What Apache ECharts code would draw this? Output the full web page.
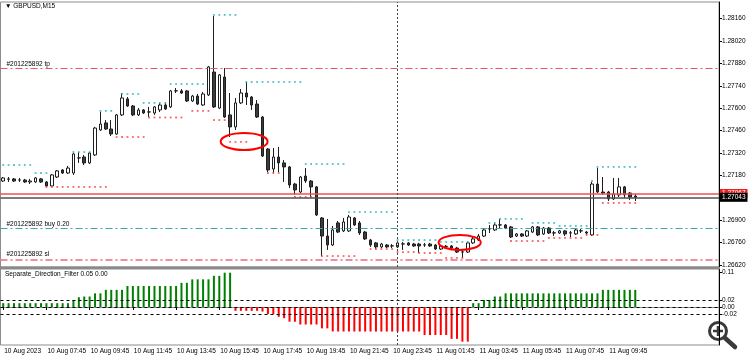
<!DOCTYPE html>
<html><head><meta charset="utf-8">
<script src="https://cdn.jsdelivr.net/npm/echarts@6/dist/echarts.min.js"></script>
<style>html,body{margin:0;padding:0;background:#fff}#c{width:750px;height:360px}</style>
</head><body><div id="c"></div><script>
// ---------- data ----------
const symbolTitle = '\u25BC GBPUSD,M15';
const indicatorTitle = 'Separate_Direction_Filter 0.05 0.00';
const slotCount = 133; // 118 bars + empty right shift
const tickLabels = ['10 Aug 2023','10 Aug 07:45','10 Aug 09:45','10 Aug 11:45','10 Aug 13:45','10 Aug 15:45','10 Aug 17:45','10 Aug 19:45','10 Aug 21:45','10 Aug 23:45','11 Aug 01:45','11 Aug 03:45','11 Aug 05:45','11 Aug 07:45','11 Aug 09:45'];
const tickEvery = 8;
const priceTicks = [1.28160,1.28020,1.27880,1.27740,1.27600,1.27460,1.27320,1.27180,1.26900,1.26760,1.26620];
const filterMax = 0.10857;
const filterTopLabelAt = 0.1;   // where the window's max value (0.11) is written
const filterTicks = [0.1,0.02,0,-0.02];
const filterLevels = [0.02,0,-0.02];

const opens = [
1.27145,1.27158,1.27158,1.27151,1.27151,1.27139,1.27139,1.27158,1.27139,1.27114,
1.27170,1.27214,1.27195,1.27195,1.27289,1.27295,1.27258,1.27308,1.27464,1.27508,
1.27470,1.27439,1.27558,1.27658,1.27614,1.27558,1.27589,1.27576,1.27570,1.27589,
1.27620,1.27608,1.27708,1.27708,1.27708,1.27645,1.27676,1.27620,1.27683,1.27826,
1.27601,1.27795,1.27558,1.27483,1.27633,1.27695,1.27670,1.27626,1.27545,1.27345,
1.27220,1.27295,1.27258,1.27233,1.27126,1.27076,1.27176,1.27145,1.27108,1.26914,
1.26801,1.26745,1.26883,1.26833,1.26833,1.26914,1.26883,1.26826,1.26776,1.26758,
1.26733,1.26745,1.26739,1.26733,1.26751,1.26758,1.26751,1.26751,1.26745,1.26751,
1.26745,1.26720,1.26736,1.26739,1.26726,1.26701,1.26701,1.26758,1.26776,1.26801,
1.26845,1.26839,1.26870,1.26870,1.26858,1.26801,1.26814,1.26801,1.26826,1.26858,
1.26814,1.26851,1.26820,1.26820,1.26833,1.26820,1.26814,1.26833,1.26826,1.26808,
1.27126,1.27076,1.27076,1.27033,1.27058,1.27108,1.27070,1.27051];
const highs = [
1.27170,1.27170,1.27164,1.27164,1.27158,1.27158,1.27170,1.27164,1.27145,1.27189,
1.27214,1.27220,1.27239,1.27320,1.27326,1.27308,1.27326,1.27483,1.27576,1.27526,
1.27526,1.27564,1.27695,1.27670,1.27620,1.27601,1.27595,1.27608,1.27614,1.27633,
1.27633,1.27714,1.27726,1.27720,1.27714,1.27683,1.27689,1.27701,1.27864,1.28176,
1.27814,1.27851,1.27695,1.27664,1.27720,1.27764,1.27676,1.27651,1.27551,1.27351,
1.27351,1.27358,1.27276,1.27239,1.27133,1.27176,1.27226,1.27151,1.27114,1.26920,
1.26908,1.26864,1.26895,1.26914,1.26933,1.26920,1.26895,1.26833,1.26783,1.26764,
1.26758,1.26751,1.26751,1.26764,1.26764,1.26764,1.26758,1.26758,1.26758,1.26758,
1.26751,1.26745,1.26745,1.26745,1.26733,1.26714,1.26764,1.26795,1.26814,1.26851,
1.26870,1.26883,1.26908,1.26876,1.26864,1.26820,1.26820,1.26839,1.26864,1.26864,
1.26858,1.26858,1.26833,1.26839,1.26839,1.26833,1.26845,1.26845,1.26833,1.27139,
1.27226,1.27170,1.27083,1.27164,1.27164,1.27114,1.27076,1.27064];
const lows = [
1.27139,1.27139,1.27139,1.27139,1.27133,1.27126,1.27133,1.27133,1.27108,1.27108,
1.27164,1.27189,1.27189,1.27183,1.27258,1.27245,1.27251,1.27301,1.27458,1.27464,
1.27426,1.27433,1.27551,1.27608,1.27551,1.27551,1.27564,1.27545,1.27558,1.27576,
1.27589,1.27601,1.27695,1.27689,1.27639,1.27639,1.27620,1.27614,1.27676,1.27601,
1.27595,1.27539,1.27420,1.27464,1.27626,1.27620,1.27589,1.27539,1.27295,1.27201,
1.27195,1.27201,1.27139,1.27101,1.27058,1.27070,1.27133,1.27045,1.26926,1.26676,
1.26714,1.26739,1.26820,1.26826,1.26826,1.26864,1.26808,1.26776,1.26733,1.26720,
1.26726,1.26726,1.26726,1.26726,1.26714,1.26739,1.26733,1.26695,1.26733,1.26733,
1.26714,1.26714,1.26726,1.26720,1.26695,1.26664,1.26695,1.26751,1.26770,1.26795,
1.26820,1.26833,1.26851,1.26845,1.26789,1.26795,1.26795,1.26795,1.26820,1.26801,
1.26808,1.26814,1.26801,1.26814,1.26801,1.26795,1.26808,1.26820,1.26808,1.26801,
1.27070,1.27058,1.27020,1.27026,1.27045,1.27039,1.27026,1.27020];
const closes = [
1.27164,1.27156,1.27145,1.27152,1.27139,1.27145,1.27164,1.27139,1.27114,1.27183,
1.27208,1.27195,1.27226,1.27314,1.27290,1.27258,1.27320,1.27476,1.27501,1.27470,
1.27439,1.27558,1.27664,1.27614,1.27558,1.27589,1.27570,1.27577,1.27608,1.27620,
1.27595,1.27708,1.27709,1.27695,1.27645,1.27676,1.27626,1.27689,1.27858,1.27608,
1.27808,1.27545,1.27483,1.27633,1.27695,1.27670,1.27620,1.27545,1.27301,1.27214,
1.27295,1.27258,1.27233,1.27120,1.27089,1.27170,1.27145,1.27108,1.26933,1.26801,
1.26745,1.26839,1.26826,1.26889,1.26920,1.26870,1.26820,1.26783,1.26745,1.26733,
1.26751,1.26733,1.26740,1.26758,1.26752,1.26745,1.26739,1.26739,1.26746,1.26739,
1.26720,1.26739,1.26737,1.26726,1.26701,1.26702,1.26758,1.26783,1.26801,1.26839,
1.26846,1.26870,1.26871,1.26851,1.26795,1.26814,1.26801,1.26833,1.26858,1.26808,
1.26851,1.26820,1.26821,1.26833,1.26814,1.26821,1.26839,1.26834,1.26820,1.27126,
1.27076,1.27070,1.27033,1.27064,1.27108,1.27058,1.27045,1.27043];

// Separate_Direction_Filter histogram, one value per bar
const filterValues = [
0.011,0.011,0.011,0.011,0.011,0.011,0.011,0.011,0.011,0.011,
0.011,0.011,0.011,0.020,0.028,0.030,0.030,0.039,0.039,0.049,
0.049,0.049,0.049,0.060,0.060,0.060,0.060,0.060,0.060,0.060,
0.060,0.060,0.060,0.069,0.069,0.079,0.079,0.079,0.079,0.089,
0.089,0.098,0.098,-0.011,-0.011,-0.011,-0.011,-0.011,-0.013,-0.020,
-0.020,-0.028,-0.032,-0.042,-0.042,-0.050,-0.050,-0.050,-0.050,-0.061,
-0.061,-0.070,-0.070,-0.070,-0.070,-0.070,-0.070,-0.070,-0.070,-0.070,
-0.070,-0.070,-0.070,-0.070,-0.070,-0.070,-0.070,-0.070,-0.080,-0.080,
-0.080,-0.080,-0.080,-0.091,-0.091,-0.099,-0.099,0.011,0.011,0.020,
0.020,0.030,0.030,0.039,0.039,0.039,0.039,0.039,0.039,0.039,
0.039,0.039,0.039,0.039,0.039,0.039,0.039,0.039,0.039,0.039,
0.039,0.049,0.049,0.049,0.049,0.049,0.049,0.049];

// dotted levels: [first bar, last bar, price]
const upperLevels = [[0,5,1.27245],[6,8,1.27195],[13,16,1.27326],[18,20,1.27583],[22,25,1.27689],[26,30,1.27633],[31,37,1.27751],[39,43,1.28183],[45,55,1.27764],[56,63,1.27251],[64,72,1.26951],[73,80,1.26776],[81,86,1.26764],[90,91,1.26883],[92,96,1.26908],[98,102,1.26883],[103,108,1.26864],[109,109,1.27145],[110,117,1.27233]];
const lowerLevels = [[8,19,1.27108],[21,26,1.27420],[27,33,1.27542],[35,38,1.27583],[39,41,1.27526],[42,45,1.27389],[49,51,1.27195],[54,57,1.27045],[59,65,1.26676],[68,72,1.26720],[73,76,1.26701],[77,81,1.26695],[82,85,1.26664],[94,100,1.26770],[101,107,1.26789],[108,110,1.26808],[111,117,1.27008]];

// order lines
const tpPrice = 1.27849, tpLabel = '#201225892 tp';
const buyPrice = 1.26849, buyLabel = '#201225892 buy 0.20';
const slPrice = 1.26654, slLabel = '#201225892 sl';
const askPrice = 1.27067, bidPrice = 1.27043;
const cursorBar = 73;
// hand-drawn ellipses: [centre bar, centre price, half width in bars, half height in price]
const ellipses = [[44.6,1.27392,4.35,0.00053],[84.5,1.26761,3.9,0.00047]];

// ---------- build ----------
const months = ['Jan','Feb','Mar','Apr','May','Jun','Jul','Aug','Sep','Oct','Nov','Dec'];
const t0 = Date.UTC(2023,7,10,5,45);
const categories = [];
for (let k = 0; k < slotCount; k++) {
  const d = new Date(t0 + k*900000);
  categories.push(d.getUTCDate()+' '+months[d.getUTCMonth()]+' '+String(d.getUTCHours()).padStart(2,'0')+':'+String(d.getUTCMinutes()).padStart(2,'0'));
}
const candles = opens.map((o,i)=>[o, closes[i], lows[i], highs[i]]);
function dots(levels){ const out=[]; levels.forEach(([a,b,p])=>{ for(let k=a;k<=b;k++) out.push([k,p]); }); return out; }
const FONT = 'Liberation Sans', FS = 6.5;
const dashDot = [7,3,2,3];
const lineLabel = (d)=>({show:true, position:'insideStartTop', formatter:'{b}', color:'#000', fontSize:FS, fontFamily:FONT, distance:[6,d]});

const chart = echarts.init(document.getElementById('c'));
chart.setOption({
  animation:false,
  backgroundColor:'#ffffff',
  textStyle:{fontFamily:FONT},
  grid:[
    {left:0.5, top:2, width:718.5, height:265, show:true, borderColor:'#8c8c8c', borderWidth:1},
    {left:0.5, top:269, width:718.5, height:76, show:true, borderColor:'#8c8c8c', borderWidth:1}
  ],
  xAxis:[
    {type:'category', gridIndex:0, data:categories, boundaryGap:true, axisLine:{show:false}, axisTick:{show:false}, axisLabel:{show:false}, splitLine:{show:false}},
    {type:'category', gridIndex:1, data:categories, boundaryGap:true,
     axisLine:{show:true, lineStyle:{color:'#8c8c8c'}},
     axisTick:{show:true, alignWithLabel:true, length:3, lineStyle:{color:'#000'}, interval:(i)=> i%tickEvery===0 && i/tickEvery<tickLabels.length},
     axisLabel:{show:true, interval:(i)=> i%tickEvery===0 && i/tickEvery<tickLabels.length, formatter:(v,i)=> tickLabels[i/tickEvery]||'', align:'left', margin:3, fontSize:FS, fontFamily:FONT, color:'#000', padding:[0,0,0,1]},
     splitLine:{show:false}}
  ],
  yAxis:[
    {type:'value', gridIndex:0, position:'right', min:1.266075, max:1.2826375,
     axisLine:{show:true, lineStyle:{color:'#000'}},
     axisTick:{show:true, length:3, customValues:priceTicks, lineStyle:{color:'#000'}},
     axisLabel:{show:true, customValues:priceTicks, formatter:(v)=>v.toFixed(5), margin:3, fontSize:FS, fontFamily:FONT, color:'#000'},
     splitLine:{show:false}},
    {type:'value', gridIndex:1, position:'right', min:-filterMax, max:filterMax,
     axisLine:{show:true, lineStyle:{color:'#000'}},
     axisTick:{show:true, length:3, customValues:filterTicks, lineStyle:{color:'#000'}},
     axisLabel:{show:true, customValues:filterTicks, formatter:(v)=>(v===filterTopLabelAt?filterMax:v).toFixed(2), margin:3, fontSize:FS, fontFamily:FONT, color:'#000'},
     splitLine:{show:false}}
  ],
  series:[
    {type:'candlestick', xAxisIndex:0, yAxisIndex:0, data:candles, barWidth:3,
     itemStyle:{color:'#ffffff', color0:'#3c3c3c', borderColor:'#1e1e1e', borderColor0:'#1e1e1e', borderWidth:1}},
    {type:'line', name:'orders', xAxisIndex:0, yAxisIndex:0, data:[], silent:true,
     markLine:{silent:true, symbol:'none', animation:false, precision:6,
       data:[
         {yAxis:tpPrice, name:tpLabel, lineStyle:{color:'#f0506a', type:dashDot, width:1}, label:lineLabel(1)},
         {yAxis:buyPrice, name:buyLabel, lineStyle:{color:'#3aa8a8', type:dashDot, width:1}, label:lineLabel(1)},
         {yAxis:slPrice, name:slLabel, lineStyle:{color:'#f28ca0', type:dashDot, width:2}, label:lineLabel(2)},
         {yAxis:askPrice, lineStyle:{color:'#f05050', type:'solid', width:1.5}, label:{show:true, position:'end', formatter:()=>askPrice.toFixed(5), color:'#fff', backgroundColor:'#f02020', padding:[1,2,1,2], fontSize:FS, fontFamily:FONT, distance:1}},
         {yAxis:bidPrice, lineStyle:{color:'#505050', type:'solid', width:1.5}, label:{show:true, position:'end', formatter:()=>bidPrice.toFixed(5), color:'#fff', backgroundColor:'#000', padding:[1,2,1,2], fontSize:FS, fontFamily:FONT, distance:1}},
         {xAxis:categories[cursorBar], lineStyle:{color:'#444', type:[2,2], width:1}, label:{show:false}}
       ]}
    },
    {type:'scatter', xAxisIndex:0, yAxisIndex:0, data:dots(upperLevels), symbol:'rect', symbolSize:[1.8,1.8], itemStyle:{color:'#2ab0b4'}, silent:true},
    {type:'scatter', xAxisIndex:0, yAxisIndex:0, data:dots(lowerLevels), symbol:'rect', symbolSize:[1.8,1.8], itemStyle:{color:'#ff3a3a'}, silent:true},
    {type:'custom', xAxisIndex:0, yAxisIndex:0, data:ellipses, silent:true, z:5,
     renderItem:(params, api)=>{
       const cx = api.value(0), cy = api.value(1), hw = api.value(2), hh = api.value(3);
       const f = Math.floor(cx);
       const p0 = api.coord([f, cy]), p1 = api.coord([f+1, cy]);
       const step = p1[0]-p0[0];
       const x = p0[0] + (cx-f)*step;
       const y = p0[1];
       const ry = y - api.coord([f, cy+hh])[1];
       return {type:'ellipse', shape:{cx:x, cy:y, rx:hw*step, ry:ry}, style:{fill:null, stroke:'#ff0000', lineWidth:2}};
     }},
    {type:'bar', xAxisIndex:1, yAxisIndex:1, data:filterValues, barWidth:2,
     itemStyle:{color:(p)=> p.value>=0 ? '#008000' : '#ff0000'}},
    {type:'line', name:'levels', xAxisIndex:1, yAxisIndex:1, data:[], silent:true,
     markLine:{silent:true, symbol:'none', animation:false, label:{show:false}, precision:6,
       data: filterLevels.map(v=>({yAxis:v, lineStyle:{color:'#000', type:[3,3], width:1}})).concat([{xAxis:categories[cursorBar], lineStyle:{color:'#444', type:[2,2], width:1}}])}
    }
  ],
  graphic:[
    {type:'text', left:5, top:3, style:{text:symbolTitle, font:'6.5px "Liberation Sans"', fill:'#000'}},
    {type:'rect', shape:{x:0, y:266.5, width:719, height:2.5}, style:{fill:'#8a8a8a'}},
    {type:'text', left:5, top:271, style:{text:indicatorTitle, font:'6.5px "Liberation Sans"', fill:'#000'}},
    {type:'group', left:708, top:321, children:[
      {type:'line', shape:{x1:17, y1:17, x2:27, y2:26}, style:{stroke:'#3a3a3a', lineWidth:4.5, lineCap:'round'}},
      {type:'circle', shape:{cx:10, cy:10, r:8.5}, style:{fill:'rgba(255,255,255,0.7)', stroke:'#3a3a3a', lineWidth:3}},
      {type:'rect', shape:{x:5, y:8.75, width:10, height:2.5}, style:{fill:'#3a3a3a'}},
      {type:'rect', shape:{x:8.75, y:5, width:2.5, height:10}, style:{fill:'#3a3a3a'}}
    ]}
  ]
});
</script></body></html>
